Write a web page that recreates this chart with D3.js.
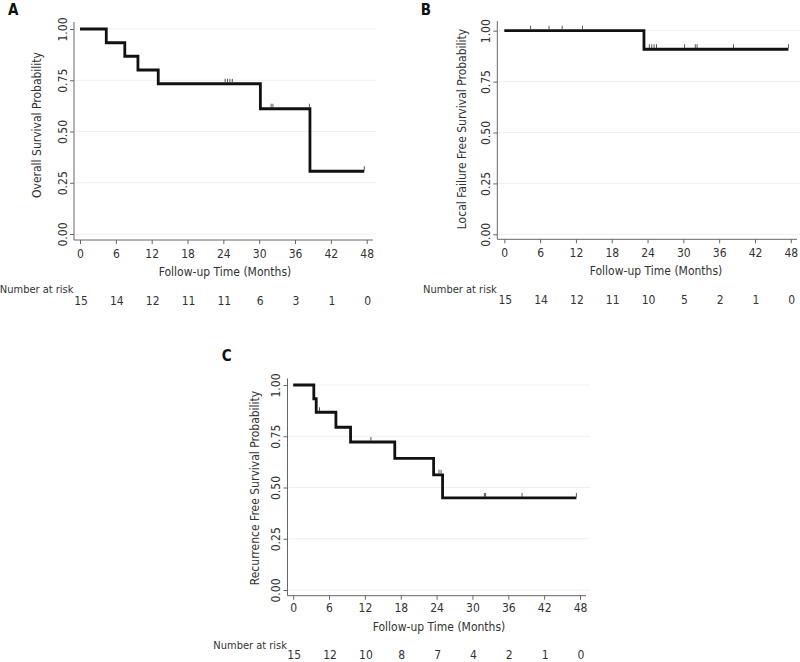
<!DOCTYPE html>
<html>
<head>
<meta charset="utf-8">
<script src="https://cdn.jsdelivr.net/npm/d3@7"></script>
<style>
  html, body { margin: 0; padding: 0; background: #fff; }
  svg { display: block; font-family: 'DejaVu Sans Condensed', 'DejaVu Sans', sans-serif; font-stretch: condensed; }
</style>
</head>
<body>
<svg id="chart" width="800" height="662"></svg>
<script>
// ---------- DATA ----------
const xTicks = [0, 6, 12, 18, 24, 30, 36, 42, 48];
const yTicks = [0, 0.25, 0.5, 0.75, 1];
const yTickLabels = ["0.00", "0.25", "0.50", "0.75", "1.00"];

const panelLetters = ["A", "B", "C"];
const yTitles = ["Overall Survival Probability", "Local Failure Free Survival Probability", "Recurrence Free Survival Probability"];
const xTitle = "Follow-up Time (Months)";
const riskLabel = "Number at risk";

// Panel A: overall survival
const osTimes = [0, 4.4, 7.5, 9.7, 13.1, 30.2, 38.5, 47.6];
const osSurv  = [1, 0.933, 0.867, 0.800, 0.733, 0.611, 0.306, 0.306];
const osCensor = [24.3, 24.7, 25.1, 25.5, 32.0, 32.3, 38.4, 47.6];
const osRisk = [15, 14, 12, 11, 11, 6, 3, 1, 0];

// Panel B: local failure free survival
const lfTimes = [0, 23.4, 47.6];
const lfSurv  = [1, 0.909, 0.909];
const lfCensor = [4.4, 7.5, 9.7, 13.1, 24.3, 24.7, 25.1, 25.5, 30.2, 32.0, 32.3, 38.4, 47.6];
const lfRisk = [15, 14, 12, 11, 10, 5, 2, 1, 0];

// Panel C: recurrence free survival
const rfTimes = [0, 3.45, 3.85, 7.15, 9.6, 17.0, 23.5, 25.0, 47.4];
const rfSurv  = [1, 0.933, 0.867, 0.794, 0.722, 0.642, 0.562, 0.449, 0.449];
const rfCensor = [4.4, 13.0, 24.4, 24.75, 32.0, 32.2, 38.3, 47.4];
const rfRisk = [15, 12, 10, 8, 7, 4, 2, 1, 0];

// ---------- LAYOUT ----------
const layouts = [
  {x0: 80, x48: 366.7, y1: 29, y0: 234, axisX: 74, axisY: 240, axisTop: 22, axisRight: 373, gridRight: 376,
   tickBase: 257.5, titleBase: 276, titleCx: 225, yTitleX: 41, yTitleCy: 125, yTickX: 66.7,
   narBase: 293, numBase: 304.5, letterX: 8, letterY: 15},
  {x0: 504.3, x48: 790.8, y1: 30.7, y0: 234.3, axisX: 497.3, axisY: 239.3, axisTop: 21, axisRight: 797, gridRight: 800,
   tickBase: 256.7, titleBase: 275.3, titleCx: 656, yTitleX: 465.6, yTitleCy: 129, yTickX: 490,
   narBase: 292.7, numBase: 304, letterX: 420.7, letterY: 15},
  {x0: 293.2, x48: 580, y1: 385, y0: 590, axisX: 287.5, axisY: 595.7, axisTop: 378.5, axisRight: 586, gridRight: 590,
   tickBase: 611.7, titleBase: 630.5, titleCx: 439, yTitleX: 259, yTitleCy: 488, yTickX: 280,
   narBase: 648.5, numBase: 658.5, letterX: 221.7, letterY: 360.7}
];

const series = [
  {times: osTimes, surv: osSurv, censor: osCensor, risk: osRisk},
  {times: lfTimes, surv: lfSurv, censor: lfCensor, risk: lfRisk},
  {times: rfTimes, surv: rfSurv, censor: rfCensor, risk: rfRisk}
];

const svg = d3.select("#chart");
const axisColor = "#666";
const textColor = "#333";

function survAt(s, t) {
  let v = s.surv[0];
  for (let i = 0; i < s.times.length; i++) {
    if (s.times[i] <= t) v = s.surv[i];
  }
  return v;
}

layouts.forEach((L, i) => {
  const s = series[i];
  const x = d3.scaleLinear().domain([0, 48]).range([L.x0, L.x48]);
  const y = d3.scaleLinear().domain([0, 1]).range([L.y0, L.y1]);
  const g = svg.append("g");

  // panel letter
  g.append("text").attr("x", L.letterX).attr("y", L.letterY)
    .attr("font-size", 15).attr("font-weight", "bold").attr("fill", "#111")
    .text(panelLetters[i]);

  // gridlines
  g.selectAll(".grid").data(yTicks).join("line")
    .attr("x1", L.axisX + 1).attr("x2", L.gridRight)
    .attr("y1", d => y(d)).attr("y2", d => y(d))
    .attr("stroke", "#f0f0f0").attr("stroke-width", 1);

  // axis lines
  g.append("line").attr("x1", L.axisX).attr("x2", L.axisX).attr("y1", L.axisTop).attr("y2", L.axisY)
    .attr("stroke", axisColor).attr("stroke-width", 1);
  g.append("line").attr("x1", L.axisX).attr("x2", L.axisRight).attr("y1", L.axisY).attr("y2", L.axisY)
    .attr("stroke", axisColor).attr("stroke-width", 1);

  // x ticks via d3 axis
  const xAxis = d3.axisBottom(x).tickValues(xTicks).tickSize(4).tickPadding(0).tickFormat(d => d);
  const xg = g.append("g").attr("transform", `translate(0,${L.axisY})`).call(xAxis);
  xg.select(".domain").remove();
  xg.attr("font-family", null).attr("font-size", 12);
  xg.selectAll(".tick line").attr("stroke", axisColor);
  xg.selectAll(".tick text").attr("fill", textColor)
    .attr("dy", null).attr("y", L.tickBase - L.axisY);

  // y ticks
  const yAxis = d3.axisLeft(y).tickValues(yTicks).tickSize(4).tickFormat((d, k) => yTickLabels[k]);
  const yg = g.append("g").attr("transform", `translate(${L.axisX},0)`).call(yAxis);
  yg.select(".domain").remove();
  yg.attr("font-family", null).attr("font-size", 12);
  yg.selectAll(".tick line").attr("stroke", axisColor);
  yg.selectAll(".tick text").attr("fill", textColor)
    .attr("x", null).attr("dy", null)
    .attr("text-anchor", "middle")
    .attr("transform", `translate(${L.yTickX - L.axisX},0) rotate(-90)`);

  // axis titles
  g.append("text").attr("x", L.titleCx).attr("y", L.titleBase)
    .attr("text-anchor", "middle").attr("font-size", 12).attr("fill", textColor).text(xTitle);
  g.append("text").attr("transform", `translate(${L.yTitleX},${L.yTitleCy}) rotate(-90)`)
    .attr("text-anchor", "middle").attr("font-size", 12).attr("fill", textColor).text(yTitles[i]);

  // number at risk
  g.append("text").attr("x", L.axisX - 0.5).attr("y", L.narBase)
    .attr("text-anchor", "end").attr("font-size", 11).attr("fill", textColor).text(riskLabel);
  g.selectAll(".risk").data(s.risk).join("text")
    .attr("x", (d, k) => x(xTicks[k]) + 1).attr("y", L.numBase)
    .attr("text-anchor", "middle").attr("font-size", 12).attr("fill", textColor).text(d => d);

  // KM step line
  const pts = s.times.map((t, k) => [t, s.surv[k]]);
  const line = d3.line().x(d => x(d[0])).y(d => y(d[1])).curve(d3.curveStepAfter);
  g.append("path").attr("d", line(pts)).attr("fill", "none")
    .attr("stroke", "#111").attr("stroke-width", 2.8).attr("stroke-linejoin", "miter");

  // censor marks
  g.selectAll(".cens").data(s.censor).join("line")
    .attr("x1", d => x(d)).attr("x2", d => x(d))
    .attr("y1", d => y(survAt(s, d)) - 1).attr("y2", d => y(survAt(s, d)) - 5)
    .attr("stroke", "#444").attr("stroke-width", 0.9);
});
</script>
</body>
</html>
